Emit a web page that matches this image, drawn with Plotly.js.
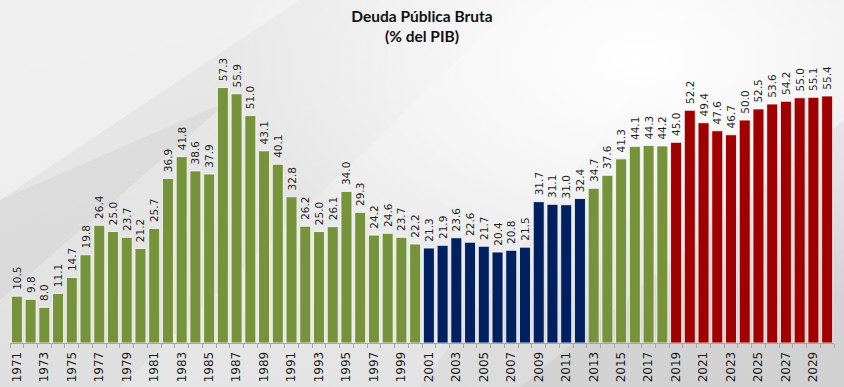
<!DOCTYPE html>
<html>
<head>
<meta charset="utf-8">
<script src="https://cdn.plot.ly/plotly-3.0.1.min.js"></script>
<style>
  html, body { margin: 0; padding: 0; }
  body {
    width: 844px; height: 387px; overflow: hidden;
    background:
      radial-gradient(ellipse 420px 260px at 640px 60px, rgba(255,255,255,1) 0%, rgba(255,255,255,0.6) 45%, rgba(255,255,255,0) 100%),
      linear-gradient(170deg, #e9e9e9 0%, #e4e4e4 45%, #d9d9d9 100%);
  }
  #chart { width: 844px; height: 387px; }
</style>
</head>
<body>
<div id="chart"></div>
<script>
// Years 1971-2030
const years = [
  1971,1972,1973,1974,1975,1976,1977,1978,1979,1980,
  1981,1982,1983,1984,1985,1986,1987,1988,1989,1990,
  1991,1992,1993,1994,1995,1996,1997,1998,1999,2000,
  2001,2002,2003,2004,2005,2006,2007,2008,2009,2010,
  2011,2012,2013,2014,2015,2016,2017,2018,2019,2020,
  2021,2022,2023,2024,2025,2026,2027,2028,2029,2030
];
// Deuda pública bruta (% del PIB)
const debtPctGDP = [
  10.5, 9.8, 8.0,11.1,14.7,19.8,26.4,25.0,23.7,21.2,
  25.7,36.9,41.8,38.6,37.9,57.3,55.9,51.0,43.1,40.1,
  32.8,26.2,25.0,26.1,34.0,29.3,24.2,24.6,23.7,22.2,
  21.3,21.9,23.6,22.6,21.7,20.4,20.8,21.5,31.7,31.1,
  31.0,32.4,34.7,37.6,41.3,44.1,44.3,44.2,45.0,52.2,
  49.4,47.6,46.7,50.0,52.5,53.6,54.2,55.0,55.1,55.4
];
// Tick labels shown (every other year)
const tickYears = years.filter((y, i) => i % 2 === 0);
const tickLabels = tickYears.map(String);

// Period colouring
function periodColor(y) {
  if (y >= 2001 && y <= 2012) return '#002060';
  if (y >= 2019) return '#a00000';
  return '#76933c';
}
const barColors = years.map(periodColor);

// Decorative background facets (paper coords from pixel positions)
const L = 10, R = 834, T = 30, B = 343;
function px(x) { return (x - L) / (R - L); }
function py(y) { return (B - y) / (B - T); }
function poly(pts, color) {
  return {
    type: 'path', xref: 'paper', yref: 'paper', layer: 'below',
    path: 'M' + pts.map(p => px(p[0]).toFixed(4) + ',' + py(p[1]).toFixed(4)).join(' L') + ' Z',
    fillcolor: color, line: { width: 0 }
  };
}
const shapes = [
  poly([[0,0],[300,0],[0,200]], 'rgba(255,255,255,0.35)'),
  poly([[120,387],[520,0],[700,0],[420,387]], 'rgba(255,255,255,0.22)'),
  poly([[520,387],[844,120],[844,387]], 'rgba(150,150,150,0.12)'),
  poly([[0,200],[230,100],[0,300]], 'rgba(120,120,120,0.08)')
];

const trace = {
  type: 'bar',
  x: years,
  y: debtPctGDP,
  width: 0.8,
  marker: { color: barColors, line: { color: '#ffffff', width: 0.8 } },
  text: debtPctGDP.map(v => '\u00a0' + v.toFixed(1)),
  textposition: 'outside',
  textangle: -90,
  constraintext: 'none',
  cliponaxis: false,
  textfont: { family: 'DejaVu Sans, Verdana, sans-serif', size: 10.5, color: '#1f1f1f' },
  hoverinfo: 'x+y'
};

const layout = {
  width: 844, height: 387,
  margin: { l: L, r: 844 - R, t: T, b: 387 - B },
  paper_bgcolor: 'rgba(0,0,0,0)',
  plot_bgcolor: 'rgba(0,0,0,0)',
  showlegend: false,
  bargap: 0.2,
  title: {
    text: '<b>Deuda Pública Bruta</b><br><b>(% del PIB)</b>',
    font: { family: 'Lato, Calibri, sans-serif', size: 15.5, color: '#111111' },
    x: 0.5, xanchor: 'center',
    y: 1 - 22 / 387, yanchor: 'top', yref: 'container'
  },
  xaxis: {
    type: 'linear',
    range: [1970.5, 2030.5],
    tickmode: 'array',
    tickvals: tickYears,
    ticktext: tickLabels,
    tickangle: -90,
    ticks: '',
    ticklabelstandoff: 3,
    showgrid: false,
    zeroline: false,
    showline: true,
    linecolor: '#a6a6a6',
    linewidth: 1,
    tickfont: { family: 'DejaVu Sans, Verdana, sans-serif', size: 12, color: '#1a1a1a' },
    minor: { tick0: 1970.5, dtick: 1, ticks: 'outside', ticklen: 4, tickcolor: '#a6a6a6', tickwidth: 1, showgrid: false }
  },
  yaxis: {
    range: [0, 70.2],
    visible: false,
    showgrid: false,
    zeroline: false
  },
  shapes: shapes
};

Plotly.newPlot('chart', [trace], layout, { displayModeBar: false, staticPlot: true });
</script>
</body>
</html>
